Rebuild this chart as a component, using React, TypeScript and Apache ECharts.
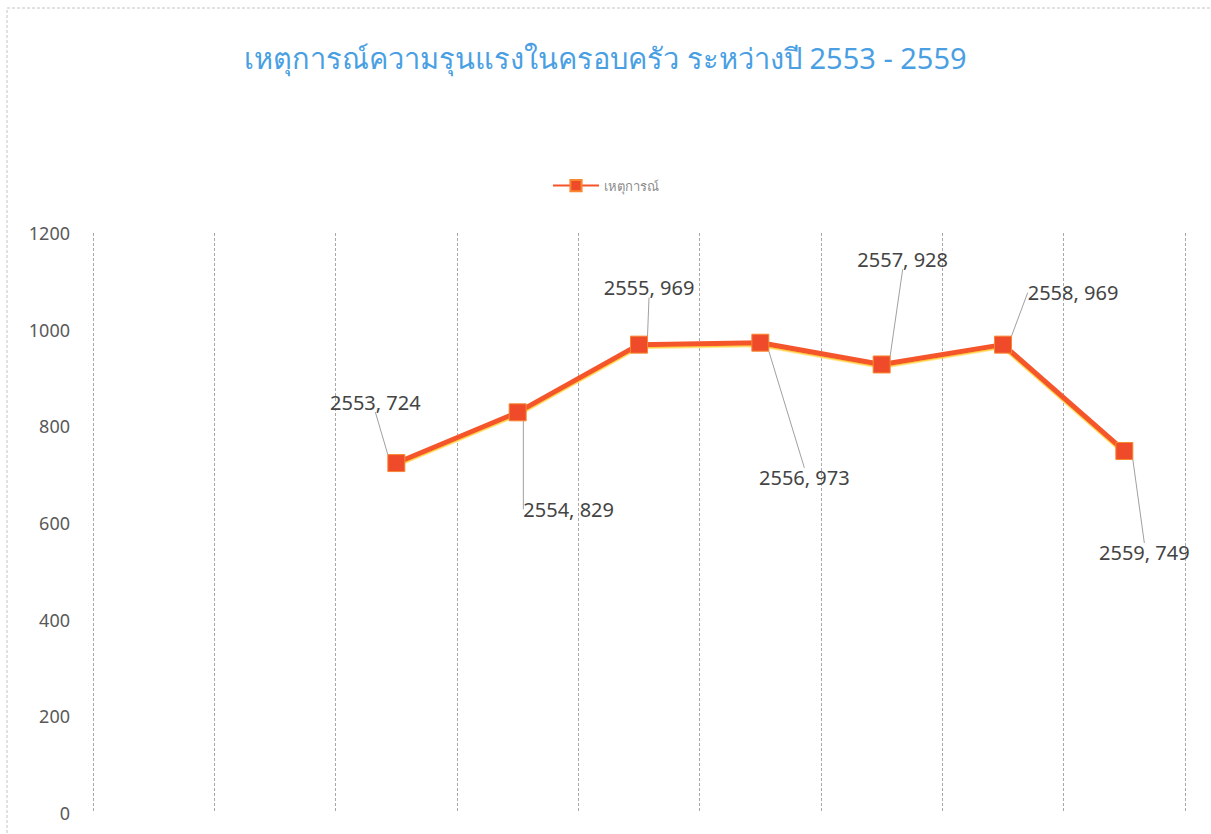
import React, { useEffect, useRef } from "react";
import * as echarts from "echarts";

const titleText = "เหตุการณ์ความรุนแรงในครอบครัว ระหว่างปี 2553 - 2559";
const seriesName = "เหตุการณ์";
const categories = ["2551", "2552", "2553", "2554", "2555", "2556", "2557", "2558", "2559"];
const values: (number | null)[] = [null, null, 724, 829, 969, 973, 928, 969, 749];
const yTicks = [0, 200, 400, 600, 800, 1000, 1200];

// label offsets (style only)
const labelOffsets: [number, number][] = [
  [0, 0], [0, 0],
  [-21, -61], [51, 97], [10, -57], [44, 135], [21, -105], [70, -52], [20, 102],
];

export default function App() {
  const ref = useRef<HTMLDivElement>(null);
  useEffect(() => {
    document.body.style.margin = "0";
    document.body.style.overflow = "hidden";
    const chart = echarts.init(ref.current!, null, { renderer: "svg" });
    chart.setOption({
      animation: false,
      backgroundColor: "#ffffff",
      title: {
        text: titleText,
        left: "center",
        top: 38,
        textStyle: { color: "#4A9FE3", fontSize: 29, fontWeight: "normal", fontFamily: "Noto Sans, DejaVu Sans, sans-serif" },
      },
      legend: {
        top: 174,
        left: "center",
        itemWidth: 46,
        itemHeight: 14,
        itemGap: 8,
        textStyle: { color: "#8c8c8c", fontSize: 13, fontFamily: "Noto Sans, sans-serif" },
        data: [seriesName],
      },
      grid: { left: 93, right: 26, top: 233, bottom: 21, containLabel: false },
      xAxis: {
        type: "category",
        data: categories,
        boundaryGap: true,
        axisLine: { show: false },
        axisTick: { show: false },
        axisLabel: { show: false },
        splitLine: { show: true, lineStyle: { color: "#a8a8a8", type: [3, 2], width: 1 } },
      },
      yAxis: {
        type: "value",
        min: yTicks[0],
        max: yTicks[yTicks.length - 1],
        interval: 200,
        axisLine: { show: false },
        axisTick: { show: false },
        splitLine: { show: false },
        axisLabel: {
          color: "#595959",
          fontSize: 18,
          fontFamily: "Noto Sans, sans-serif",
          margin: 23,
          formatter: (v: number) => String(v),
        },
      },
      graphic: [
        {
          type: "rect",
          shape: { x: 7, y: 8, width: 1220, height: 840 },
          style: { fill: "none", stroke: "#c4c4c4", lineWidth: 1, lineDash: [3, 2] },
          silent: true,
        },
      ],
      series: [
        {
          name: seriesName,
          type: "line",
          data: values,
          connectNulls: false,
          symbol: "rect",
          symbolSize: 17,
          lineStyle: { color: "#F5542A", width: 5, shadowColor: "rgba(255,200,40,0.9)", shadowOffsetY: 1.5, shadowBlur: 0 },
          itemStyle: { color: "#EF4B2A", borderColor: "#F7882F", borderWidth: 1 },
          label: {
            show: true,
            position: "inside",
            color: "#444444",
            fontSize: 20,
            fontFamily: "Noto Sans, sans-serif",
            formatter: (p: any) => `${categories[p.dataIndex]}, ${p.value}`,
          },
          labelLine: { show: true, lineStyle: { color: "#a0a0a0", width: 1 } },
          labelLayout: (p: any) => ({ dx: labelOffsets[p.dataIndex][0], dy: labelOffsets[p.dataIndex][1] }),
        },
      ],
    });
    return () => chart.dispose();
  }, []);
  return <div ref={ref} style={{ width: 1211, height: 834 }} />;
}
